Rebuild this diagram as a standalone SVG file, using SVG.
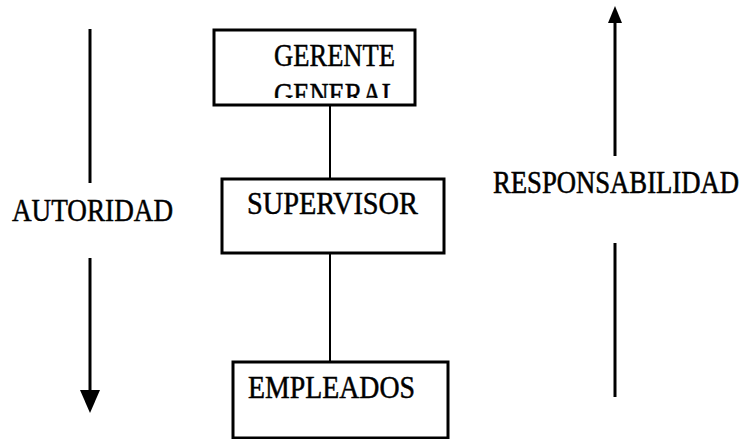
<svg xmlns="http://www.w3.org/2000/svg" width="746" height="439" viewBox="0 0 746 439">
<style>
.box{fill:#fff;stroke:#000;stroke-width:3}
.lbl{font-family:"Liberation Serif","Times New Roman",serif;font-size:31px;fill:#000;stroke:#000;stroke-width:0.5}
.conn{stroke:#000;stroke-width:2;fill:none}
.arr{stroke:#000;stroke-width:3;fill:none}
</style>
<defs>
<clipPath id="clipGen"><rect x="214" y="70" width="200" height="28"/></clipPath>
</defs>
<rect width="746" height="439" fill="#fff"/>
<g id="connectors">
<line class="conn" x1="330" y1="105" x2="330" y2="178"/>
<line class="conn" x1="330" y1="253" x2="330" y2="362"/>
</g>
<g id="gerente">
<rect class="box" x="214" y="30" width="201" height="75"/>
<text class="lbl" x="274" y="66" textLength="121" lengthAdjust="spacingAndGlyphs">GERENTE</text>
<text class="lbl" x="274" y="105" textLength="124" lengthAdjust="spacingAndGlyphs" clip-path="url(#clipGen)">GENERAL</text>
</g>
<g id="supervisor">
<rect class="box" x="222" y="179" width="222" height="74"/>
<text class="lbl" x="247" y="214" textLength="171" lengthAdjust="spacingAndGlyphs">SUPERVISOR</text>
</g>
<g id="empleados">
<rect class="box" x="233" y="362" width="215" height="76"/>
<text class="lbl" x="248" y="398" textLength="167" lengthAdjust="spacingAndGlyphs">EMPLEADOS</text>
</g>
<g id="autoridad">
<line class="arr" x1="90" y1="29" x2="90" y2="183"/>
<line class="arr" x1="90" y1="258" x2="90" y2="392"/>
<polygon points="80,390 100,390 90,413" fill="#000"/>
<text class="lbl" x="12" y="221" textLength="161" lengthAdjust="spacingAndGlyphs">AUTORIDAD</text>
</g>
<g id="responsabilidad">
<line class="arr" x1="615" y1="22" x2="615" y2="156"/>
<line class="arr" x1="615" y1="243" x2="615" y2="397"/>
<polygon points="608,23 622,23 615,6" fill="#000"/>
<text class="lbl" transform="translate(493,193) scale(1,1.15)" x="0" y="0" style="font-size:27px" textLength="246" lengthAdjust="spacingAndGlyphs">RESPONSABILIDAD</text>
</g>
</svg>
